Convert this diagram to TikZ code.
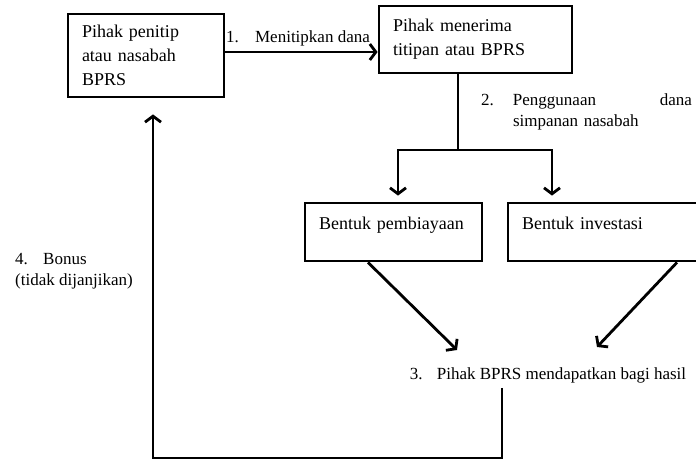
\documentclass[tikz,border=0pt]{standalone}
\usepackage{fontspec}
\setmainfont{Liberation Serif}
\usetikzlibrary{arrows.meta}

\begin{document}
\begin{tikzpicture}[x=1pt,y=-1pt]
\tikzset{kotak/.style={draw,line width=2.8pt,inner xsep=14pt,align=left,font=\fontsize{18}{24}\selectfont},
keterangan/.style={inner sep=0pt,align=left,font=\fontsize{17}{21}\selectfont},
garis/.style={line width=2.8pt},
panah/.style={line width=2.8pt,-{Straight Barb[length=6pt,width=16pt]}}}
\useasboundingbox (0,0) rectangle (696,461);
% kotak
\node[kotak,text width=128pt,minimum height=83pt] (penitip) at (146,55.5) {Pihak penitip\\atau nasabah\\BPRS};
\node[kotak,text width=165pt,minimum height=67pt] (menerima) at (475.5,39.5) {Pihak menerima\\titipan atau BPRS};
\node[kotak,text width=149pt,inner ysep=0pt,text height=26pt,text depth=32pt] (pembiayaan) at (393.5,232) {Bentuk pembiayaan};
\node[kotak,text width=164pt,inner ysep=0pt,text height=26pt,text depth=32pt] (investasi) at (604,232) {Bentuk investasi};
% keterangan
\node[keterangan] (titip) at (298,38) {\makebox[29pt][l]{1.}Menitipkan dana};
\node[keterangan,text width=211pt] (guna) at (586.5,112) {\makebox[32pt][l]{2.}Penggunaan\hfill dana\\\hspace*{32pt}simpanan nasabah};
\node[keterangan] (hasil) at (548,375) {\makebox[27pt][l]{3.}Pihak BPRS mendapatkan bagi hasil};
\node[keterangan,anchor=west] (bonus) at (15,271.5) {\makebox[28pt][l]{4.}Bonus\\(tidak dijanjikan)};
\coordinate (cabang) at (458,150);
\coordinate (cabangkiri) at (398,150);
\coordinate (cabangkanan) at (552,150);
\coordinate (ujungkiri) at (457,350);
\coordinate (ujungkanan) at (597,347);
\coordinate (bawahkanan) at (502,458);
\coordinate (bawahkiri) at (153,458);
\draw[panah] ([yshift=3.5pt]penitip.east) -- ([yshift=3.5pt]penitip.east -| menerima.west);
\draw[garis] (menerima.south -| cabang) -- (cabang);
\draw[panah,shorten >=6pt] (cabang) -- (cabangkiri) -- (cabangkiri |- pembiayaan.north);
\draw[panah,shorten >=6pt] (cabang) -- (cabangkanan) -- (cabangkanan |- investasi.north);
\draw[panah] ([xshift=-25.5pt]pembiayaan.south) -- (ujungkiri);
\draw[panah] ([xshift=73pt]investasi.south) -- (ujungkanan);
\draw[panah,shorten <=5pt,shorten >=16pt] (hasil.south -| bawahkanan) -- (bawahkanan) -- (bawahkiri) -- (bawahkiri |- penitip.south);
\end{tikzpicture}
\end{document}
